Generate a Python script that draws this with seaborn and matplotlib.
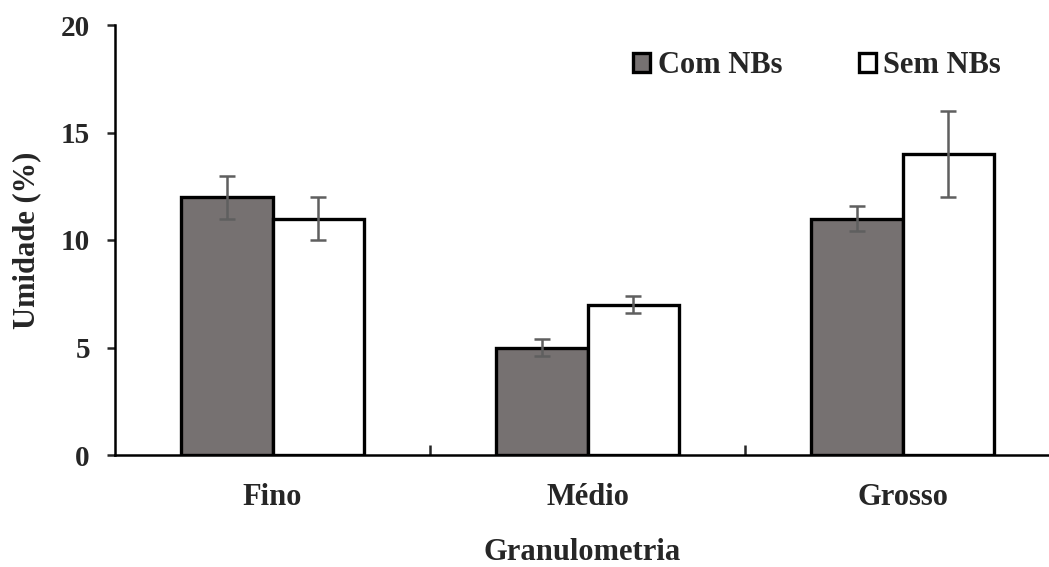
import matplotlib
matplotlib.use("Agg")
import matplotlib.pyplot as plt
import seaborn as sns
import pandas as pd
import numpy as np

# Moisture content by grain size, with and without nanobubbles
categories = ["Fino", "Médio", "Grosso"]
series = ["Com NBs", "Sem NBs"]
com_nbs = [12, 5, 11]
sem_nbs = [11, 7, 14]
com_err = [1.0, 0.4, 0.6]
sem_err = [1.0, 0.4, 2.0]

df = pd.DataFrame({
    "Granulometria": categories * 2,
    "Grupo": [series[0]] * 3 + [series[1]] * 3,
    "Umidade": com_nbs + sem_nbs,
    "Erro": com_err + sem_err,
})

sns.set_style("ticks")
plt.rcParams["font.family"] = ["Liberation Serif", "DejaVu Serif"]
plt.rcParams["font.weight"] = "bold"

fig = plt.figure(figsize=(10.49, 5.67), dpi=100)
ax = fig.add_axes([115 / 1049, 1 - 455 / 567, (1049 - 115) / 1049, (455 - 25) / 567])

palette = {"Com NBs": "#767171", "Sem NBs": "#FFFFFF"}
sns.barplot(data=df, x="Granulometria", y="Umidade", hue="Grupo",
            order=categories, hue_order=series, palette=palette,
            width=0.58, gap=0, errorbar=None, saturation=1,
            edgecolor="black", linewidth=2.4, ax=ax)

# Error bars placed at the centres of the drawn bars
for container, errs in zip(ax.containers, [com_err, sem_err]):
    xs = [p.get_x() + p.get_width() / 2 for p in container.patches]
    ys = [p.get_height() for p in container.patches]
    ax.errorbar(xs, ys, yerr=errs, fmt="none", ecolor="#5f5f5f",
                elinewidth=1.8, capsize=6, capthick=1.8, zorder=5)

ax.set_ylim(0, 20)
ax.set_yticks([0, 5, 10, 15, 20])
ax.set_xlim(-0.5, 2.5 - 11 / 315)

sns.despine(ax=ax)
for s in ["left", "bottom"]:
    ax.spines[s].set_linewidth(1.8)
    ax.spines[s].set_color("black")

ax.tick_params(axis="y", direction="out", length=6, width=1.8, labelsize=21, pad=12)
ax.tick_params(axis="x", which="major", length=0, labelsize=22, pad=20)
ax.set_xticks([0.5, 1.5], minor=True)
ax.tick_params(axis="x", which="minor", direction="in", length=7, width=1.8)

for lab in ax.get_xticklabels() + ax.get_yticklabels():
    lab.set_fontweight("bold")

ax.set_xlabel("Granulometria", fontsize=22, fontweight="bold", labelpad=19)
ax.set_ylabel("Umidade (%)", fontsize=22, fontweight="bold", labelpad=14)

handles, labels = ax.get_legend_handles_labels()
leg = ax.legend(handles, labels, loc="center left", bbox_to_anchor=(0.555, 0.905),
                ncol=2, frameon=False, handlelength=0.55,
                handleheight=0.55, handletextpad=0.25, columnspacing=2.5,
                prop={"weight": "bold", "size": 22}, borderaxespad=0, borderpad=0)
for h in leg.legend_handles:
    h.set_linewidth(2.4)
    h.set_edgecolor("black")

fig.savefig("out.png", dpi=100)
